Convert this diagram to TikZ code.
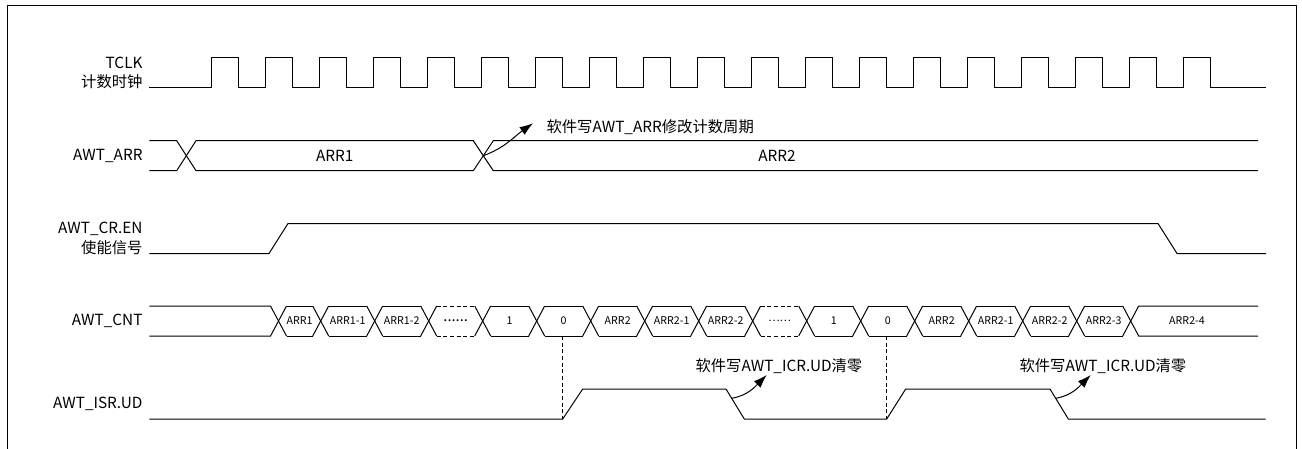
\documentclass[tikz,border=0pt]{standalone}
\usepackage{fontspec}
\setmainfont{Noto Sans CJK SC}
\usepackage{tikz}
\usetikzlibrary{arrows.meta,positioning}
\usepackage{xcolor}

\begin{document}
\begin{tikzpicture}[x=0.75pt,y=-0.75pt,line width=0.75pt,
      >={Latex[length=10pt,width=7pt]},
      sig name/.style={anchor=east,align=right,inner sep=0,
          font=\fontsize{11.5}{14.5}\selectfont},
      bus text/.style={inner sep=0,font=\fontsize{11.5}{14}\selectfont},
      cell text/.style={inner sep=0,font=\fontsize{8}{10}\selectfont},
      note text/.style={anchor=west,inner sep=0,
          font=\fontsize{11.5}{14}\selectfont},
      gap line/.style={dash pattern=on 3pt off 2pt}]

    \useasboundingbox (0,0) rectangle (1302,449);
    % frame, open at the bottom
    \draw (7,449) -- (7,6) -- (1296.7,6) -- (1296.7,449);

    % signal names
    \node[sig name] (tclk) at (143,72.7) {TCLK\\计数时钟};
    \node[sig name] (arr) at (143,155.7) {AWT\_ARR};
    \node[sig name] (en) at (143,238.5) {AWT\_CR.EN\\使能信号};
    \node[sig name] (cnt) at (143,321) {AWT\_CNT};
    \node[sig name] (isr) at (143,404) {AWT\_ISR.UD};

    % TCLK
    \draw (149.3,87.7) \foreach \k in {0,...,18}{
        -- ({211.7+54*\k},87.7) -- ({211.7+54*\k},57.7)
        -- ({238.7+54*\k},57.7) -- ({238.7+54*\k},87.7)} -- (1266,87.7);

    % AWT_ARR
    \draw (149.3,140.7) -- (176.7,140.7) -- (196,170.7) -- (473.3,170.7)
        -- (493.3,140.7) -- (1258,140.7);
    \draw (149.3,170.7) -- (176.7,170.7) -- (196,140.7) -- (473.3,140.7)
        -- (493.3,170.7) -- (1258,170.7);
    \node[bus text] (arr1) at (334.7,155.7) {ARR1};
    \node[bus text] (arr2) at (777,155.7) {ARR2};

    % AWT_CR.EN
    \draw (149.3,253.5) -- (269,253.5) -- (288,223.5) -- (1158,223.5)
        -- (1177,253.5) -- (1266,253.5);

    % AWT_CNT
    \draw (149.3,306) -- (270.5,306) -- (278.5,321) -- (270.5,336) -- (149.3,336);
    \foreach \a/\b/\t/\s in {278.5/320.7/ARR1/solid, 320.7/374.7/ARR1-1/solid,
        374.7/428.7/ARR1-2/solid, 428.7/482.7/{\fontsize{11}{12}\selectfont......}/gap line,
        482.7/536.7/1/solid, 536.7/590.7/0/solid, 590.7/644.7/ARR2/solid,
        644.7/698.7/ARR2-1/solid, 698.7/752.7/ARR2-2/solid, 752.7/806.7/……/gap line,
        806.7/860.7/1/solid, 860.7/914.7/0/solid, 914.7/968.7/ARR2/solid,
        968.7/1022.7/ARR2-1/solid, 1022.7/1076.7/ARR2-2/solid,
        1076.7/1130.7/ARR2-3/solid}{
      \draw ({\a+8},306) -- (\a,321) -- ({\a+8},336);
      \draw ({\b-8},306) -- (\b,321) -- ({\b-8},336);
      \draw[\s] ({\a+8},306) -- ({\b-8},306) ({\a+8},336) -- ({\b-8},336);
      \node[cell text] at ({(\a+\b)/2},321) {\t};
    }
    \draw (1258,306) -- (1138.7,306) -- (1130.7,321) -- (1138.7,336) -- (1258,336);
    \node[cell text] (last) at (1187,321) {ARR2-4};

    % AWT_ISR.UD
    \draw (149.3,419) -- (562.7,419) -- (582.7,389) -- (726,389) -- (744.3,419)
        -- (886.7,419) -- (905.7,389) -- (1050,389) -- (1068.3,419) -- (1265.7,419);
    \draw[dashed,dash pattern=on 3pt off 2pt] (562.7,336) -- (562.7,419);
    \draw[dashed,dash pattern=on 3pt off 2pt] (886.7,336) -- (886.7,419);

    % notes
    \coordinate (arrx) at (483.3,155.7);
    \coordinate (arrtip) at (533,123.3);
    \node[note text] (arrnote) at (546,126.7) {软件写AWT\_ARR修改计数周期};
    \draw[->] (arrx) to[out=20,in=215] (arrtip);

    \coordinate (clr1) at (731.7,398.3);
    \coordinate (clr1tip) at (766.7,375);
    \node[note text] (clr1note) at (695,365.7) {软件写AWT\_ICR.UD清零};
    \draw[->] (clr1) to[out=10,in=225] (clr1tip);

    \coordinate (clr2) at (1055.7,398.3);
    \coordinate (clr2tip) at (1090.7,375);
    \node[note text] (clr2note) at (1019,365.7) {软件写AWT\_ICR.UD清零};
    \draw[->] (clr2) to[out=10,in=225] (clr2tip);

\end{tikzpicture}
\end{document}
